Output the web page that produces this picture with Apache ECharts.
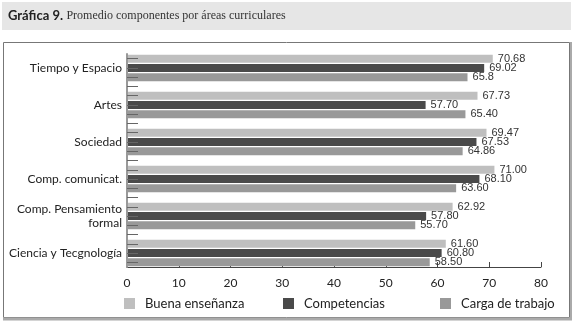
<!DOCTYPE html>
<html>
<head>
<meta charset="utf-8">
<script src="https://cdn.jsdelivr.net/npm/echarts@6/dist/echarts.min.js"></script>
<style>
  html, body { margin: 0; padding: 0; background: #fff; }
  #chart { width: 573px; height: 323px; }
</style>
</head>
<body>
<div id="chart"></div>
<script>
var areas = ['Tiempo y Espacio', 'Artes', 'Sociedad', 'Comp. comunicat.', 'Comp. Pensamiento\nformal', 'Ciencia y Tecgnología'];
var buena = [70.68, 67.73, 69.47, 71.00, 62.92, 61.60];
var competencias = [69.02, 57.70, 67.53, 68.10, 57.80, 60.80];
var carga = [65.8, 65.40, 64.86, 63.60, 55.70, 58.50];
var cargaTxt = ['65.8', '65.40', '64.86', '63.60', '55.70', '58.50'];
var xTicks = [0, 10, 20, 30, 40, 50, 60, 70, 80];

// each area takes 3 bar slots + 1 empty slot (none after the last one)
var nSlots = areas.length * 4 - 1;
var slots = [];
for (var i = 0; i < nSlots; i++) slots.push('s' + i);

function spread(vals, k) {
    var out = [];
    for (var i = 0; i < nSlots; i++) out.push('-');
    vals.forEach(function (v, g) { out[g * 4 + k] = v; });
    return out;
}

var chart = echarts.init(document.getElementById('chart'), null, {renderer: 'canvas'});

function barSeries(name, vals, k, color, txt) {
    return {
        name: name,
        type: 'bar',
        data: spread(vals, k),
        barWidth: 8,
        barGap: '-100%',
        itemStyle: {color: color},
        label: {
            show: true,
            position: 'right',
            distance: 5,
            color: '#333',
            fontFamily: 'Liberation Sans',
            fontSize: 11,
            formatter: function (p) {
                var g = Math.floor(p.dataIndex / 4);
                return txt ? txt[g] : vals[g].toFixed(2);
            }
        }
    };
}

var legendBase = {
    top: 297,
    padding: 0,
    itemWidth: 11,
    itemHeight: 11,
    icon: 'rect',
    selectedMode: false,
    textStyle: {fontFamily: 'Lato', fontSize: 13, color: '#222', padding: [0, 0, 0, 5]}
};

chart.setOption({
    animation: false,
    graphic: [
        {type: 'rect', shape: {x: 2, y: 2, width: 569, height: 28}, style: {fill: '#e6e6e6'}, silent: true},
        {
            type: 'text', left: 8, top: 9, silent: true,
            style: {
                text: '{a|Gráfica 9.} {b|Promedio componentes por áreas curriculares}',
                rich: {
                    a: {fontFamily: 'Lato', fontSize: 13, fontWeight: 'bold', fill: '#222'},
                    b: {fontFamily: 'Liberation Serif', fontSize: 12, fill: '#333'}
                }
            }
        },
        {type: 'rect', shape: {x: 3.5, y: 42.5, width: 566, height: 275}, style: {fill: 'none', stroke: '#777', lineWidth: 1}, silent: true},
        {type: 'line', shape: {x1: 3, y1: 319, x2: 572, y2: 319}, style: {stroke: '#aaa', lineWidth: 3}, silent: true},
        {type: 'line', shape: {x1: 571, y1: 42, x2: 571, y2: 320}, style: {stroke: '#aaa', lineWidth: 2}, silent: true}
    ],
    legend: [
        Object.assign({left: 124, data: ['Buena enseñanza']}, legendBase),
        Object.assign({left: 283, data: ['Competencias']}, legendBase),
        Object.assign({left: 440, data: ['Carga de trabajo']}, legendBase)
    ],
    grid: {left: 127, right: 32, top: 54, bottom: 56},
    xAxis: {
        type: 'value',
        min: 0,
        max: 80,
        interval: 10,
        axisLine: {show: true, lineStyle: {color: '#444'}},
        axisTick: {show: true, inside: true, length: 5, lineStyle: {color: '#444'}},
        splitLine: {show: false},
        axisLabel: {
            margin: 10, fontFamily: 'Lato', fontSize: 12, color: '#222',
            formatter: function (v) { return xTicks.indexOf(v) >= 0 ? String(v) : ''; }
        }
    },
    yAxis: {
        type: 'category',
        inverse: true,
        z: 5,
        data: slots,
        axisLine: {show: true, lineStyle: {color: '#999', width: 2}},
        axisTick: {show: true, inside: true, alignWithLabel: true, interval: 0, length: 11, lineStyle: {color: '#666'}},
        axisLabel: {
            interval: 0,
            margin: 5,
            fontFamily: 'Lato',
            fontSize: 12,
            lineHeight: 14,
            color: '#222',
            align: 'right',
            formatter: function (v, i) {
                return (i % 4 === 1) ? areas[(i - 1) / 4] : '';
            }
        }
    },
    series: [
        barSeries('Buena enseñanza', buena, 0, '#bfbfbf'),
        barSeries('Competencias', competencias, 1, '#4a4a4a'),
        barSeries('Carga de trabajo', carga, 2, '#999999', cargaTxt)
    ]
});
</script>
</body>
</html>
